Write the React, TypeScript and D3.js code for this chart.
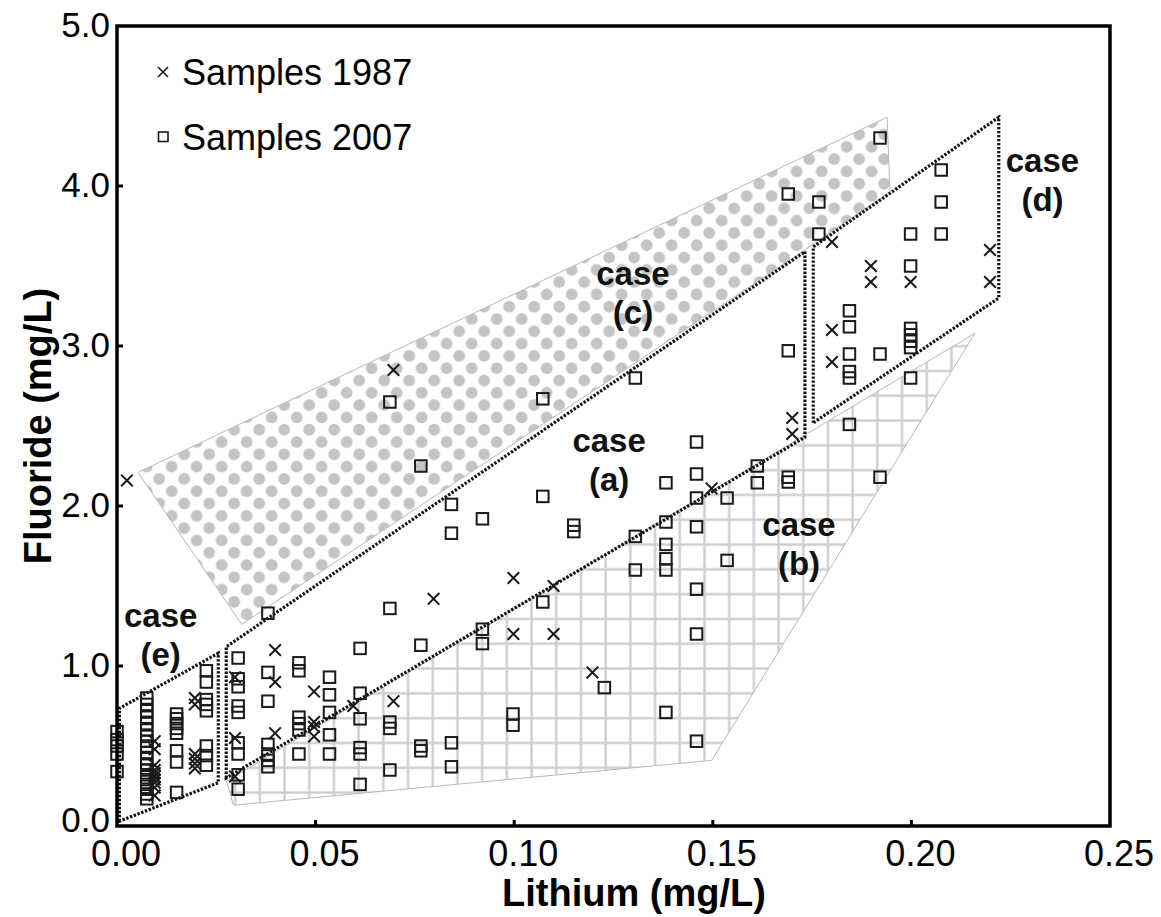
import React from "react";
import * as d3 from "d3";

const W = 1161;
const H = 917;

const liTicks = [0, 0.05, 0.1, 0.15, 0.2, 0.25];
const fTicks = [0, 1, 2, 3, 4, 5];

// samples, grouped by lithium column: [Li, [F...]]
const cols2007: [number, number[]][] = [
  [0.0, [0.59, 0.54, 0.5, 0.45, 0.34]],
  [0.0075, [0.8, 0.76, 0.72, 0.68, 0.64, 0.6, 0.56, 0.53, 0.5, 0.46, 0.42, 0.38, 0.35, 0.32, 0.29, 0.26, 0.23, 0.2, 0.17]],
  [0.015, [0.7, 0.67, 0.64, 0.61, 0.58, 0.47, 0.4, 0.21]],
  [0.0225, [0.97, 0.9, 0.79, 0.76, 0.72, 0.5, 0.44, 0.38]],
  [0.0305, [1.05, 0.92, 0.87, 0.75, 0.71, 0.52, 0.45, 0.32, 0.23]],
  [0.038, [1.33, 0.96, 0.78, 0.51, 0.45, 0.41, 0.37]],
  [0.0458, [1.02, 0.97, 0.68, 0.64, 0.6, 0.45]],
  [0.0535, [0.93, 0.82, 0.71, 0.57, 0.45]],
  [0.0612, [1.11, 0.83, 0.67, 0.49, 0.45, 0.26]],
  [0.0687, [2.65, 1.36, 0.65, 0.61, 0.35]],
  [0.0765, [2.25, 1.13, 0.5, 0.47]],
  [0.0842, [2.01, 1.83, 0.52, 0.37]],
  [0.092, [1.92, 1.23, 1.14]],
  [0.0997, [0.7, 0.63]],
  [0.1072, [2.67, 2.06, 1.4]],
  [0.115, [1.88, 1.84]],
  [0.1227, [0.865]],
  [0.1305, [2.8, 1.81, 1.6]],
  [0.1382, [2.145, 1.9, 1.76, 1.67, 1.6, 0.71]],
  [0.1459, [2.4, 2.2, 2.05, 1.87, 1.48, 1.2, 0.53]],
  [0.1536, [2.05, 1.66]],
  [0.1612, [2.25, 2.145]],
  [0.169, [3.95, 2.97, 2.18, 2.15]],
  [0.1767, [3.9, 3.7]],
  [0.1844, [3.22, 3.12, 2.95, 2.84, 2.8, 2.51]],
  [0.1921, [4.3, 2.95, 2.18]],
  [0.1998, [3.7, 3.5, 3.11, 3.07, 3.03, 2.99, 2.8]],
  [0.2075, [4.1, 3.9, 3.7]],
];

const cols1987: [number, number[]][] = [
  [0.0025, [2.16]],
  [0.0095, [0.53, 0.48, 0.38, 0.35, 0.33, 0.31, 0.29, 0.27, 0.24, 0.19]],
  [0.0196, [0.8, 0.76, 0.45, 0.42, 0.39, 0.36]],
  [0.0297, [0.93, 0.55, 0.31]],
  [0.0398, [1.1, 0.9, 0.58]],
  [0.0496, [0.84, 0.65, 0.62, 0.56]],
  [0.0595, [0.75]],
  [0.0696, [2.85, 0.78]],
  [0.0797, [1.42]],
  [0.0998, [1.55, 1.2]],
  [0.1099, [1.5, 1.2]],
  [0.1197, [0.96]],
  [0.1497, [2.11]],
  [0.17, [2.55, 2.45]],
  [0.18, [3.65, 3.1, 2.9]],
  [0.1898, [3.5, 3.4]],
  [0.1998, [3.4]],
  [0.2198, [3.6, 3.4]],
];

// case regions, vertices in (Li, F)
const caseA: [number, number][] = [[0.0275, 0.3], [0.0275, 1.12], [0.1732, 3.59], [0.1732, 2.43]];
const caseB: [number, number][] = [[0.0276, 0.28], [0.0293, 0.13], [0.1497, 0.41], [0.216, 3.08]];
const caseC: [number, number][] = [[0.0053, 2.21], [0.1939, 4.43], [0.1946, 3.96], [0.1753, 3.64], [0.1732, 3.6], [0.0314, 1.26]];
const caseD: [number, number][] = [[0.1753, 2.52], [0.1753, 3.62], [0.222, 4.43], [0.222, 3.3]];
const caseE: [number, number][] = [[0.0006, 0.03], [0.0006, 0.735], [0.0255, 1.08], [0.0255, 0.27]];

// label anchors: [letter, Li, F of the "case" baseline]
const caseLabels: [string, number, number][] = [
  ["a", 0.1239, 2.34],
  ["b", 0.1717, 1.81],
  ["c", 0.1299, 3.38],
  ["d", 0.233, 4.09],
  ["e", 0.011, 1.245],
];

const flatten = (cols: [number, number[]][]) =>
  cols.flatMap(([li, fs]) => fs.map((f) => [li, f] as [number, number]));

const App: React.FC = () => {
  const x = d3.scaleLinear().domain([0, 0.25]).range([117, 1110]);
  const y = d3.scaleLinear().domain([0, 5]).range([826, 26]);

  const poly = (pts: [number, number][]) =>
    d3.line<[number, number]>().x((d) => x(d[0])).y((d) => y(d[1]))(pts) + "Z";

  const s2007 = flatten(cols2007);
  const s1987 = flatten(cols1987);
  const sq = 11.5;
  const cr = 5.8;
  const font = "'Liberation Sans', Arial, sans-serif";

  return (
    <svg width={W} height={H} style={{ position: "absolute", left: 0, top: 0, background: "#fff" }}>
      <defs>
        <pattern id="dots" patternUnits="userSpaceOnUse" x={215.45} y={558.85} width={25} height={24.6}>
          <circle cx={6.25} cy={6.15} r={5.9} fill="#c4c4c4" />
          <circle cx={18.75} cy={18.45} r={5.9} fill="#c4c4c4" />
        </pattern>
        <pattern id="grid" patternUnits="userSpaceOnUse" x={370.95} y={680.9} width={24.7} height={24.8}>
          <rect x={11.2} y={0} width={2.4} height={24.8} fill="#cecece" />
          <rect x={0} y={11.25} width={24.7} height={2.4} fill="#cecece" />
        </pattern>
      </defs>
      <rect width={W} height={H} fill="#fff" />

      {/* shaded cases */}
      <path d={poly(caseC)} fill="url(#dots)" stroke="#b8b8b8" strokeWidth={1} />
      <path d={poly(caseB)} fill="url(#grid)" stroke="#b8b8b8" strokeWidth={1} />

      {/* dotted cases */}
      {[caseA, caseD, caseE].map((c, i) => (
        <path key={i} d={poly(c)} fill="none" stroke="#111" strokeWidth={3.2} strokeDasharray="2.4 1.6" />
      ))}

      {/* samples 2007 */}
      {s2007.map((d, i) => (
        <rect key={"s" + i} x={x(d[0]) - sq / 2} y={y(d[1]) - sq / 2} width={sq} height={sq}
          fill="none" stroke="#1a1a1a" strokeWidth={2} />
      ))}
      {/* samples 1987 */}
      {s1987.map((d, i) => (
        <path key={"c" + i}
          d={`M${x(d[0]) - cr},${y(d[1]) - cr}L${x(d[0]) + cr},${y(d[1]) + cr}M${x(d[0]) - cr},${y(d[1]) + cr}L${x(d[0]) + cr},${y(d[1]) - cr}`}
          stroke="#1a1a1a" strokeWidth={2} />
      ))}

      {/* case labels */}
      {caseLabels.map(([t, li, f]) => (
        <text key={t} x={x(li)} y={y(f)} textAnchor="middle" fontFamily={font} fontWeight="bold" fontSize={33} fill="#111">
          <tspan x={x(li)}>case</tspan>
          <tspan x={x(li)} dy={39}>({t})</tspan>
        </text>
      ))}

      {/* frame */}
      <rect x={117} y={26} width={1110 - 117} height={826 - 26} fill="none" stroke="#000" strokeWidth={3.5} />
      {liTicks.slice(1, -1).map((t) => (
        <line key={"xt" + t} x1={x(t)} x2={x(t)} y1={826} y2={820} stroke="#000" strokeWidth={3} />
      ))}
      {fTicks.slice(1, -1).map((t) => (
        <line key={"yt" + t} x1={117} x2={123} y1={y(t)} y2={y(t)} stroke="#000" strokeWidth={3} />
      ))}

      {/* tick labels */}
      {liTicks.map((t) => (
        <text key={"xl" + t} x={x(t) + 9} y={866} textAnchor="middle" fontFamily={font} fontSize={36} fill="#000">
          {t.toFixed(2)}
        </text>
      ))}
      {fTicks.map((t) => (
        <text key={"yl" + t} x={110} y={y(t) - (t === 0 ? 7 : 2)} dy="0.36em" textAnchor="end" fontFamily={font} fontSize={35} fill="#000">
          {t.toFixed(1)}
        </text>
      ))}

      {/* axis titles */}
      <text x={634} y={906} textAnchor="middle" fontFamily={font} fontWeight="bold" fontSize={38} fill="#000">
        Lithium (mg/L)
      </text>
      <text transform={`translate(51,426) rotate(-90)`} textAnchor="middle" fontFamily={font} fontWeight="bold" fontSize={38} fill="#000">
        Fluoride (mg/L)
      </text>

      {/* legend */}
      <path d="M158,67L168,77M158,77L168,67" stroke="#1a1a1a" strokeWidth={1.6} />
      <text x={182} y={85} fontFamily={font} fontSize={36} fill="#000">Samples 1987</text>
      <rect x={158.5} y={132} width={9.5} height={9.5} fill="none" stroke="#1a1a1a" strokeWidth={1.6} />
      <text x={182} y={150} fontFamily={font} fontSize={36} fill="#000">Samples 2007</text>
    </svg>
  );
};

export default App;
